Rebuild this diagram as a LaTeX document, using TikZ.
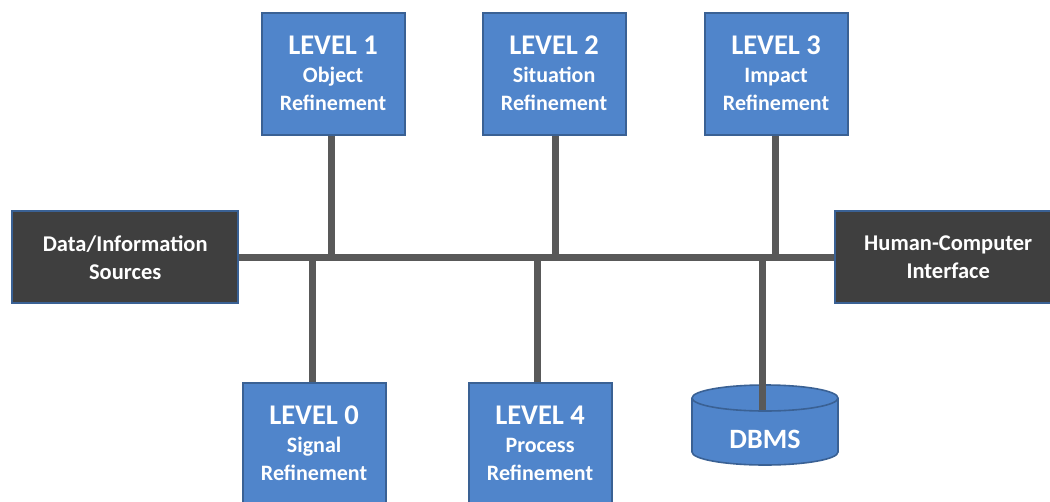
\documentclass[tikz,border=0pt]{standalone}
\usepackage{fontspec}
\setmainfont{Carlito}
\definecolor{boxblue}{HTML}{5085CB}
\definecolor{edgeblue}{HTML}{3A6194}
\definecolor{darkbox}{HTML}{3F3F3F}
\definecolor{busgray}{HTML}{595959}
\begin{document}
\begin{tikzpicture}[x=1pt,y=-1pt,
  level/.style={draw=edgeblue,line width=2.2pt,fill=boxblue,text=white,
    minimum width=143pt,minimum height=122pt,align=center,inner sep=0pt,
    font=\bfseries\fontsize{22}{28}\selectfont},
  ends/.style={draw=edgeblue,line width=2.4pt,fill=darkbox,text=white,
    minimum width=226pt,minimum height=92pt,align=center,inner sep=0pt,
    font=\bfseries\fontsize{22.5}{28}\selectfont},
  bus/.style={draw=busgray,line width=7pt}]
\useasboundingbox (0,0) rectangle (1050,501);
% top row: levels 1-3
\node[level,anchor=north west] (l1) at (260.5,11.5) {{\fontsize{28.5}{34}\selectfont LEVEL 1}\\Object\\Refinement};
\node[level,anchor=north west] (l2) at (481.5,11.5) {{\fontsize{28.5}{34}\selectfont LEVEL 2}\\Situation\\Refinement};
\node[level,anchor=north west] (l3) at (703.5,11.5) {{\fontsize{28.5}{34}\selectfont LEVEL 3}\\Impact\\Refinement};
% end points of the bus
\node[ends,anchor=north west] (src) at (11,210) {Data/Information\\Sources};
\node[ends,anchor=north west] (hci) at (834,210) {Human-Computer\\Interface};
% bottom row: levels 0 and 4
\node[level,anchor=north west] (l0) at (241.5,381.5) {{\fontsize{28.5}{34}\selectfont LEVEL 0}\\Signal\\Refinement};
\node[level,anchor=north west] (l4) at (467.5,381.5) {{\fontsize{28.5}{34}\selectfont LEVEL 4}\\Process\\Refinement};
% database cylinder
\fill[boxblue] (765,452) ellipse[x radius=73,y radius=13];
\fill[boxblue] (692,398) rectangle (838,452);
\draw[edgeblue,line width=1.6pt] (692,398) -- (692,452) arc[start angle=180,end angle=0,x radius=73,y radius=13] -- (838,398);
\draw[edgeblue,line width=1.6pt,fill=boxblue] (765,398) ellipse[x radius=73,y radius=13];
\node[text=white,font=\bfseries\fontsize{28}{30}\selectfont] (dbms) at (765,439) {DBMS};
% the bus and its stems
\coordinate (b1) at (331,257);
\coordinate (b2) at (555,257);
\coordinate (b3) at (775,257);
\coordinate (b0) at (312,257);
\coordinate (b4) at (537,257);
\coordinate (bd) at (762,257);
\coordinate (dbtop) at (762,410);
\draw[bus] (src.east |- b1) -- (hci.west |- b1);
\draw[bus] (l1.south -| b1) -- (b1);
\draw[bus] (l2.south -| b2) -- (b2);
\draw[bus] (l3.south -| b3) -- (b3);
\draw[bus] (b0) -- (l0.north -| b0);
\draw[bus] (b4) -- (l4.north -| b4);
\draw[bus] (bd) -- (dbtop);
\end{tikzpicture}
\end{document}
